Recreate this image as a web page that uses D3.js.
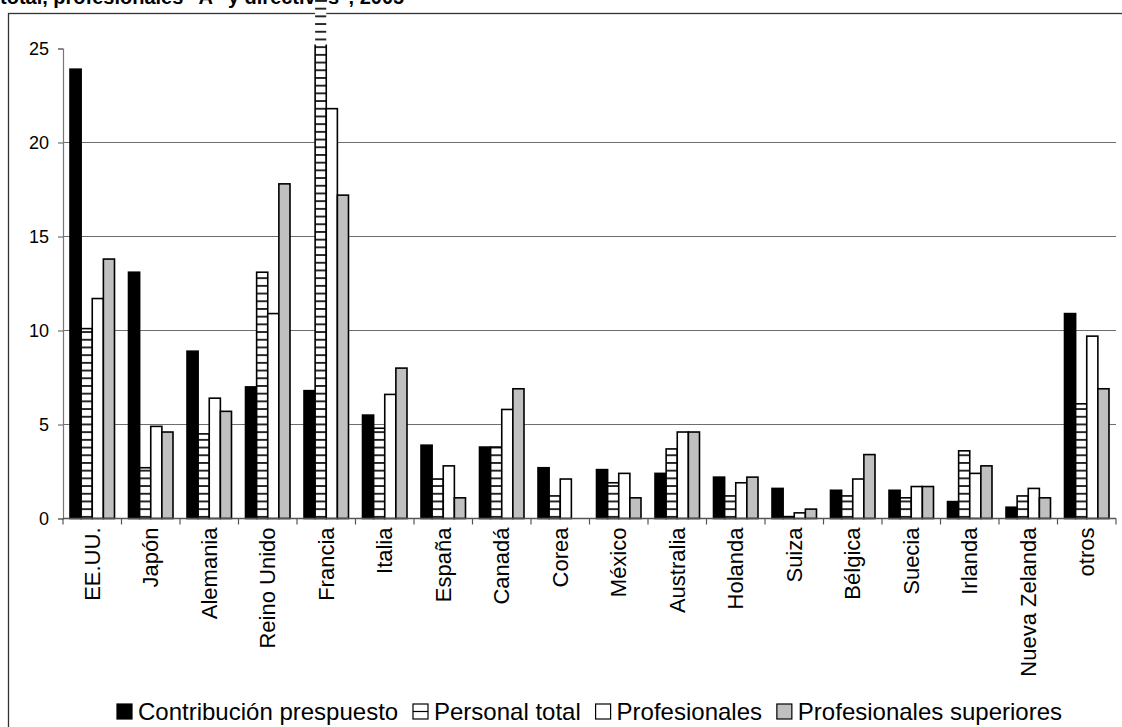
<!DOCTYPE html>
<html lang="es">
<head>
<meta charset="utf-8">
<title>Contribución presupuesto y personal</title>
<script src="https://d3js.org/d3.v7.min.js"></script>
<style>
  body { margin: 0; background: #fff; }
  svg { display: block; font-family: "Liberation Sans", Arial, sans-serif; }
</style>
</head>
<body>
<div id="chart"></div>
<script>
// data
const categories = ["EE.UU.", "Japón", "Alemania", "Reino Unido", "Francia", "Italia", "España", "Canadá",
  "Corea", "México", "Australia", "Holanda", "Suiza", "Bélgica", "Suecia", "Irlanda", "Nueva Zelanda", "otros"];
const seriesNames = ["Contribución prespuesto", "Personal total", "Profesionales", "Profesionales superiores"];
const contribucion = [23.9, 13.1, 8.9, 7.0, 6.8, 5.5, 3.9, 3.8, 2.7, 2.6, 2.4, 2.2, 1.6, 1.5, 1.5, 0.9, 0.6, 10.9];
const personalTotal = [10.1, 2.7, 4.5, 13.1, 28.0, 4.8, 2.1, 3.8, 1.2, 1.9, 3.7, 1.2, 0.1, 1.2, 1.1, 3.6, 1.2, 6.1];
const profesionales = [11.7, 4.9, 6.4, 10.9, 21.8, 6.6, 2.8, 5.8, 2.1, 2.4, 4.6, 1.9, 0.3, 2.1, 1.7, 2.4, 1.6, 9.7];
const superiores = [13.8, 4.6, 5.7, 17.8, 17.2, 8.0, 1.1, 6.9, 0, 1.1, 4.6, 2.2, 0.5, 3.4, 1.7, 2.8, 1.1, 6.9];
const yTicks = [0, 5, 10, 15, 20, 25];
const titleText = "total, profesionales \"A\" y directivos\", 2005";

const W = 1122, H = 727;
const plot = { left: 63, right: 1116, top: 48.5, bottom: 518.5 };

const svg = d3.select("#chart").append("svg")
  .attr("width", W).attr("height", H);

svg.append("rect").attr("width", W).attr("height", H).attr("fill", "#fff");

// stripes pattern for "Personal total"
const defs = svg.append("defs");
const pat = defs.append("pattern")
  .attr("id", "stripes")
  .attr("patternUnits", "userSpaceOnUse")
  .attr("width", 10).attr("height", 7.7);
pat.append("rect").attr("width", 10).attr("height", 7.7).attr("fill", "#fff");
pat.append("rect").attr("y", 0).attr("width", 10).attr("height", 1.9).attr("fill", "#222");

const fills = ["#000", "url(#stripes)", "#fff", "#c0c0c0"];
const seriesValues = [contribucion, personalTotal, profesionales, superiores];

// scales
const y = d3.scaleLinear().domain([0, 25]).range([plot.bottom, plot.top]);
const x0 = d3.scaleBand().domain(categories).range([plot.left, plot.right]).padding(0);
const x1 = d3.scaleBand().domain(d3.range(4)).range([0, x0.bandwidth()]).paddingInner(0).paddingOuter(0.63);

// outline clip: bars taller than the axis lose their border just above it
defs.append("clipPath").attr("id", "outlineClip")
  .append("rect").attr("x", 0).attr("y", y(25) - 4).attr("width", W).attr("height", H);

// title (cut at the top edge, like the source)
svg.append("text")
  .attr("x", 0).attr("y", 4)
  .attr("font-size", 20).attr("font-weight", "bold")
  .text(titleText);

// outer frame
svg.append("rect")
  .attr("x", 8.5).attr("y", 13.5)
  .attr("width", W + 20).attr("height", H + 20)
  .attr("fill", "none").attr("stroke", "#333").attr("stroke-width", 1.3);

// gridlines
svg.append("g").selectAll("line")
  .data(yTicks.filter(t => t > 0 && t < 25))
  .join("line")
  .attr("x1", plot.left).attr("x2", plot.right)
  .attr("y1", d => y(d)).attr("y2", d => y(d))
  .attr("stroke", "#6e6e6e").attr("stroke-width", 1.2);

// y axis
const yAxis = svg.append("g")
  .attr("transform", `translate(${plot.left},0)`)
  .call(d3.axisLeft(y).tickValues(yTicks).tickSize(5).tickPadding(9));
yAxis.select(".domain").attr("stroke", "#777").attr("stroke-width", 1.2);
yAxis.selectAll(".tick line").attr("stroke", "#555");
yAxis.selectAll("text").attr("font-size", 18).attr("fill", "#000")
  .attr("font-family", "Liberation Sans, Arial, sans-serif");

// bars
const groups = svg.append("g").selectAll("g")
  .data(categories)
  .join("g")
  .attr("transform", d => `translate(${x0(d)},0)`);

groups.each(function (cat, ci) {
  const g = d3.select(this);
  seriesValues.forEach((vals, si) => {
    const v = vals[ci];
    if (v <= 0) return;
    const bx = x1(si), bw = x1.bandwidth();
    const top = y(v);
    // fill
    g.append("rect")
      .attr("x", bx).attr("y", top)
      .attr("width", bw).attr("height", plot.bottom - top)
      .attr("fill", fills[si]);
    // outline
    g.append("rect")
      .attr("x", bx).attr("y", top)
      .attr("width", bw).attr("height", plot.bottom - top)
      .attr("fill", "none").attr("stroke", "#000").attr("stroke-width", 1.6)
      .attr("clip-path", "url(#outlineClip)");
  });
});

// x axis
const xAxisG = svg.append("g");
xAxisG.append("line")
  .attr("x1", plot.left).attr("x2", plot.right)
  .attr("y1", plot.bottom).attr("y2", plot.bottom)
  .attr("stroke", "#555").attr("stroke-width", 1.3);
const bounds = categories.map(c => x0(c)).concat([plot.right]);
xAxisG.selectAll(".xtick")
  .data(bounds)
  .join("line")
  .attr("class", "xtick")
  .attr("x1", d => d).attr("x2", d => d)
  .attr("y1", plot.bottom).attr("y2", plot.bottom + 6)
  .attr("stroke", "#555").attr("stroke-width", 1.2);
xAxisG.selectAll(".xlab")
  .data(categories)
  .join("text")
  .attr("class", "xlab")
  .attr("transform", d => `translate(${x0(d) + x0.bandwidth() / 2},${plot.bottom + 9}) rotate(-90)`)
  .attr("text-anchor", "end")
  .attr("dy", "0.35em")
  .attr("font-size", 22)
  .text(d => d);

// legend: measure the texts, then spread the items over the same width as the source
const legend = svg.append("g");
const symSize = 15, symGap = 6;
const legLeft = 117, legRight = 1062;
const texts = seriesNames.map(name => legend.append("text")
  .attr("y", 0).attr("font-size", 24).text(name));
const textW = texts.map(t => t.node().getComputedTextLength());
const itemGap = (legRight - legLeft - d3.sum(textW) - seriesNames.length * (symSize + symGap)) / (seriesNames.length - 1);
let lx = legLeft;
seriesNames.forEach((name, i) => {
  const sym = legend.append("g").attr("transform", `translate(${lx},-16)`);
  sym.append("rect").attr("width", symSize).attr("height", symSize)
    .attr("fill", i === 1 ? "#fff" : fills[i])
    .attr("stroke", "#000").attr("stroke-width", 1.2);
  if (i === 1) {
    sym.append("line").attr("x1", 0).attr("x2", symSize).attr("y1", symSize / 2).attr("y2", symSize / 2)
      .attr("stroke", "#000").attr("stroke-width", 1.2);
  }
  lx += symSize + symGap;
  texts[i].attr("x", lx);
  lx += textW[i] + itemGap;
});
legend.attr("transform", "translate(0,720)");
</script>
</body>
</html>
